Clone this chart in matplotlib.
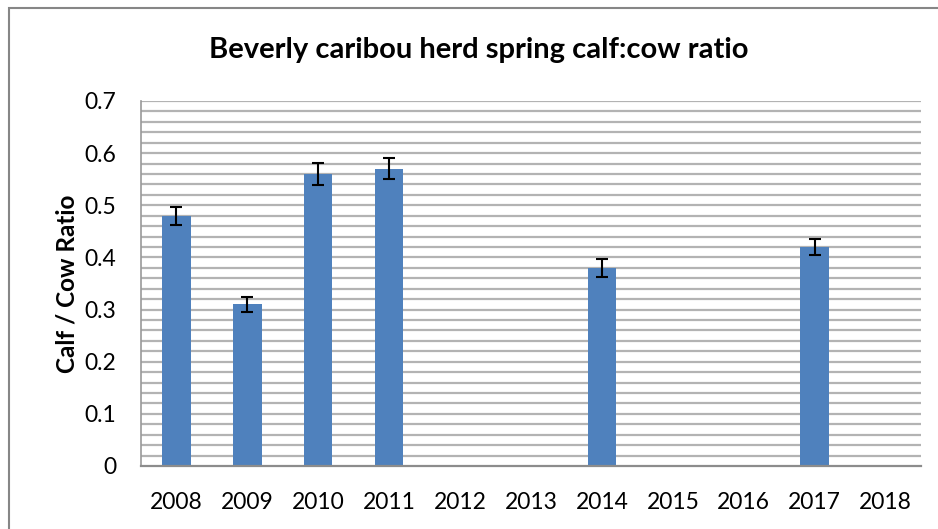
#!/usr/bin/env python3
"""Beverly caribou herd spring calf:cow ratio bar chart with error bars"""
import matplotlib
matplotlib.use('Agg')
import matplotlib.pyplot as plt
from matplotlib.patches import Rectangle
import numpy as np

# data (NaN = no survey that year)
years = ['2008', '2009', '2010', '2011', '2012', '2013', '2014', '2015', '2016', '2017', '2018']
ratio = [0.48, 0.31, 0.56, 0.57, np.nan, np.nan, 0.38, np.nan, np.nan, 0.42, np.nan]
err = [0.017, 0.014, 0.021, 0.020, np.nan, np.nan, 0.017, np.nan, np.nan, 0.015, np.nan]

plt.rcParams['font.family'] = ['Lato', 'DejaVu Sans']

fig = plt.figure(figsize=(9.38, 5.29), dpi=100)
W, H = 938, 529
ax = fig.add_axes([141 / W, (H - 466) / H, 780 / W, 365 / H])

x = np.arange(len(years))
vals = np.array(ratio)
errs = np.array(err)
ok = np.isfinite(vals)
ax.bar(x[ok], vals[ok], width=0.4, color='#4F81BD', zorder=2)
ax.errorbar(x[ok], vals[ok], yerr=errs[ok], fmt='none', ecolor='black',
            elinewidth=1.5, capsize=4.5, capthick=1.5, zorder=3)

ax.set_xlim(-0.5, len(years) - 0.5)
ax.set_ylim(0, 0.7)
ax.set_xticks(x)
ax.set_xticklabels(years)
ax.set_yticks(np.arange(0, 0.71, 0.1))
ax.set_yticklabels(['0', '0.1', '0.2', '0.3', '0.4', '0.5', '0.6', '0.7'])
ax.tick_params(axis='both', length=0, labelsize=16.5)
ax.tick_params(axis='y', pad=18)
ax.tick_params(axis='x', pad=19)

# light gridlines every 0.02
for g in np.arange(0.02, 0.701, 0.02):
	ax.axhline(g, color='#b3b3b3', linewidth=1.6, zorder=1)

for s in ['top', 'right']:
	ax.spines[s].set_visible(False)
ax.spines['left'].set_color('#999999')
ax.spines['left'].set_linewidth(1.2)
ax.spines['bottom'].set_color('#8c8c8c')
ax.spines['bottom'].set_linewidth(1.6)
ax.spines['bottom'].set_zorder(4)

ax.set_ylabel('Calf / Cow Ratio', fontsize=17.5, fontweight='bold', labelpad=4)
fig.text(479 / W, 1 - 50 / H, 'Beverly caribou herd spring calf:cow ratio',
	ha='center', va='center', fontsize=21, fontweight='bold')

# chart area border (runs off the right and bottom edges)
fig.patches.append(Rectangle((9 / W, -0.1), 1.2, 1 - 8 / H + 0.1, transform=fig.transFigure,
	fill=False, edgecolor='#868686', linewidth=1.5))

fig.savefig('out.png', dpi=100)
